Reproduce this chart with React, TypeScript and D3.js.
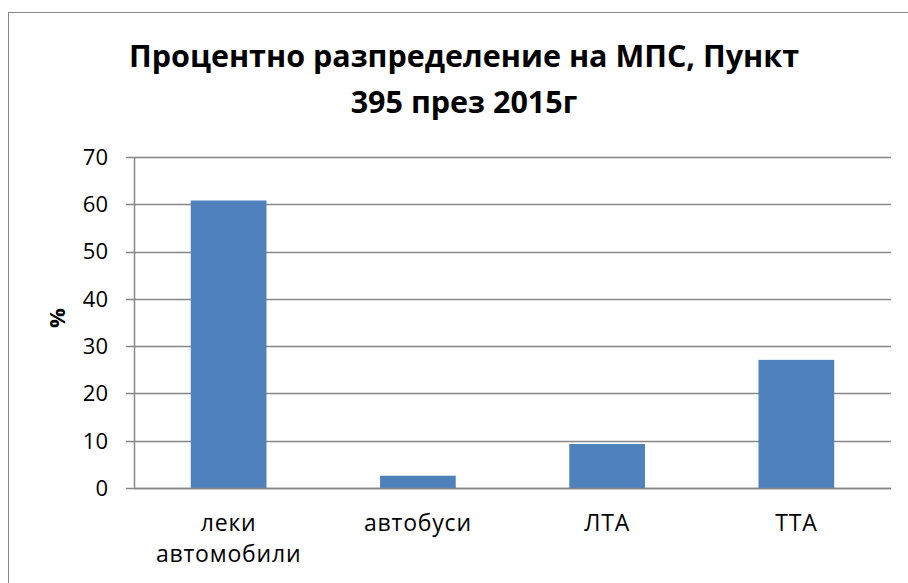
import React from "react";
import * as d3 from "d3";

const categories: string[][] = [["леки", "автомобили"], ["автобуси"], ["ЛТА"], ["ТТА"]];
const values: number[] = [60.8, 2.6, 9.3, 27.1];
const yTicks: number[] = [0, 10, 20, 30, 40, 50, 60, 70];
const titleLines: string[] = ["Процентно разпределение на МПС, Пункт", "395 през 2015г"];
const yAxisTitle = "%";

const W = 908;
const H = 583;
const plot = { left: 134, right: 891, top: 157, bottom: 488 };
const FONT = "'Open Sans', 'DejaVu Sans', sans-serif";

export default function App() {
  const keys = categories.map((c) => c.join(" "));
  const x = d3.scaleBand<string>().domain(keys).range([plot.left, plot.right]).paddingInner(0.6).paddingOuter(0.3);
  const y = d3.scaleLinear().domain([0, 70]).range([plot.bottom, plot.top]);
  const grid = "#868686";
  return (
    <svg width={W} height={H} style={{ position: "absolute", left: 0, top: 0, background: "#fff" }}>
      <rect x={8.5} y={12.5} width={W + 10} height={H + 10} fill="#fff" stroke="#898989" strokeWidth={1} />
      {titleLines.map((t, i) => (
        <text key={i} x={464} y={67 + i * 46} textAnchor="middle" fontFamily={FONT} fontWeight="bold" fontSize={30.5} fill="#000">
          {t}
        </text>
      ))}
      {yTicks.map((t) => (
        <g key={t}>
          <line x1={plot.left} x2={plot.right} y1={Math.round(y(t)) + 0.5} y2={Math.round(y(t)) + 0.5} stroke={grid} strokeWidth={1.5} />
          <line x1={126} x2={plot.left} y1={Math.round(y(t)) + 0.5} y2={Math.round(y(t)) + 0.5} stroke={grid} strokeWidth={1.5} />
          <text x={108} y={y(t)} dy="0.36em" textAnchor="end" fontFamily={FONT} fontSize={22} fill="#000">
            {t}
          </text>
        </g>
      ))}
      <line x1={plot.left + 0.5} x2={plot.left + 0.5} y1={plot.top} y2={plot.bottom} stroke={grid} strokeWidth={1.5} />
      {values.map((v, i) => (
        <rect key={i} x={x(keys[i])!} y={y(v)} width={x.bandwidth()} height={plot.bottom - y(v)} fill="#4F81BD" />
      ))}
      <line x1={plot.left} x2={plot.right} y1={plot.bottom + 0.5} y2={plot.bottom + 0.5} stroke={grid} strokeWidth={1.5} />
      {categories.map((lines, i) => (
        <text key={i} textAnchor="middle" fontFamily={FONT} fontSize={23} letterSpacing={0.8} fill="#000">
          {lines.map((l, j) => (
            <tspan key={j} x={x(keys[i])! + x.bandwidth() / 2} y={531 + j * 31}>
              {l}
            </tspan>
          ))}
        </text>
      ))}
      <text transform="translate(65,318) rotate(-90)" textAnchor="middle" fontFamily={FONT} fontWeight="bold" fontSize={22} fill="#000">
        {yAxisTitle}
      </text>
    </svg>
  );
}
